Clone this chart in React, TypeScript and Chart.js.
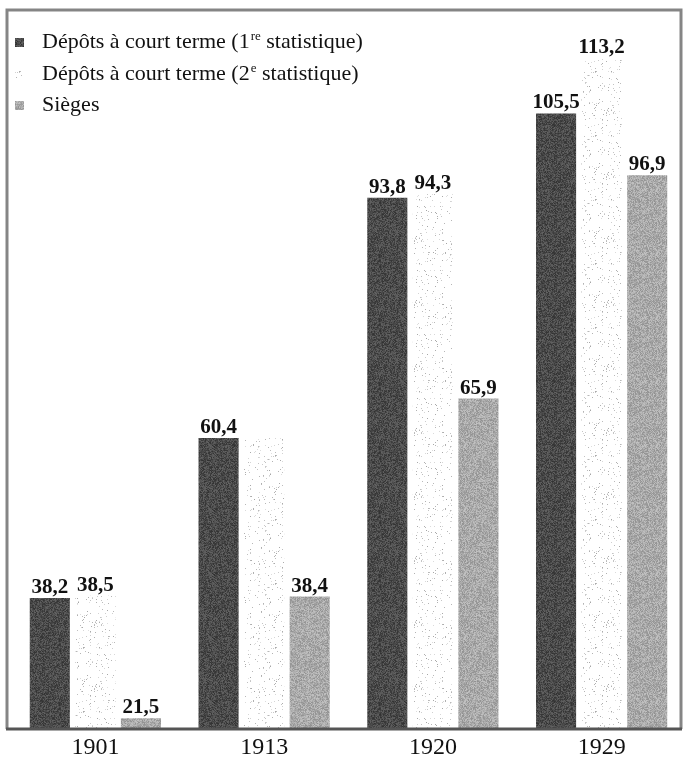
import React, { useEffect, useRef } from "react";
import { Chart, registerables } from "chart.js";
Chart.register(...registerables);

const categories = ["1901", "1913", "1920", "1929"];
const depots1 = [38.2, 60.4, 93.8, 105.5];
const depots2 = [38.5, 60.4, 94.3, 113.2];
const depots2Labeled = [true, false, true, true];
const sieges = [21.5, 38.4, 65.9, 96.9];
const legendMain = ["Dépôts à court terme (1", "Dépôts à court terme (2", "Sièges"];
const legendSup = ["re", "e", ""];
const legendTail = [" statistique)", " statistique)", ""];

function makePattern(kind: string): CanvasPattern | string {
  const c = document.createElement("canvas");
  c.width = 64;
  c.height = 64;
  const ctx = c.getContext("2d");
  if (!ctx) return "#888";
  let seed = kind === "dark" ? 12345 : kind === "dots" ? 777 : 4242;
  const rnd = () => {
    seed = (seed * 1103515245 + 12345) & 0x7fffffff;
    return seed / 0x7fffffff;
  };
  const img = ctx.createImageData(64, 64);
  for (let i = 0; i < 64 * 64; i++) {
    let v = 255;
    if (kind === "dark") v = 50 + Math.floor(rnd() * 50);
    else if (kind === "mid") v = 145 + Math.floor(rnd() * 50);
    else {
      const r = rnd();
      v = r < 0.045 ? 165 + Math.floor(rnd() * 60) : 255;
    }
    img.data[i * 4] = v;
    img.data[i * 4 + 1] = v;
    img.data[i * 4 + 2] = v;
    img.data[i * 4 + 3] = 255;
  }
  ctx.putImageData(img, 0, 0);
  return ctx.createPattern(c, "repeat") || "#888";
}

const fmt = (v: number) => v.toFixed(1).replace(".", ",");

export default function App() {
  const ref = useRef<HTMLCanvasElement>(null);
  useEffect(() => {
    document.body.style.margin = "0";
    const canvas = ref.current;
    if (!canvas) return;
    const pDark = makePattern("dark");
    const pDots = makePattern("dots");
    const pMid = makePattern("mid");
    const patterns = [pDark, pDots, pMid];

    const framePlugin = {
      id: "frame",
      beforeDatasetsDraw(chart: any) {
        const { ctx, chartArea } = chart;
        ctx.save();
        ctx.strokeStyle = "#858585";
        ctx.lineWidth = 3;
        ctx.beginPath();
        ctx.moveTo(chartArea.left - 4, chartArea.bottom);
        ctx.lineTo(chartArea.left - 4, chartArea.top + 1);
        ctx.lineTo(chartArea.right - 5, chartArea.top + 1);
        ctx.lineTo(chartArea.right - 5, chartArea.bottom);
        ctx.stroke();
        ctx.restore();
      },
      afterDatasetsDraw(chart: any) {
        const { ctx, chartArea } = chart;
        ctx.save();
        ctx.strokeStyle = "#555";
        ctx.lineWidth = 3;
        ctx.beginPath();
        ctx.moveTo(chartArea.left - 5, chartArea.bottom);
        ctx.lineTo(chartArea.right - 4, chartArea.bottom);
        ctx.stroke();
        // value labels
        ctx.fillStyle = "#111";
        ctx.font = "bold 21px 'Liberation Serif', serif";
        ctx.textAlign = "center";
        ctx.textBaseline = "alphabetic";
        chart.data.datasets.forEach((ds: any, di: number) => {
          const meta = chart.getDatasetMeta(di);
          meta.data.forEach((bar: any, i: number) => {
            if (di === 1 && !depots2Labeled[i]) return;
            ctx.fillText(fmt(ds.data[i]), bar.x, bar.y - 5);
          });
        });
        // legend
        const rows = [48, 80, 111];
        rows.forEach((y, i) => {
          ctx.fillStyle = patterns[i] as any;
          ctx.fillRect(chartArea.left + 4, y - 10, 9, 9);
          ctx.fillStyle = "#111";
          ctx.textAlign = "left";
          ctx.font = "22px 'Liberation Serif', serif";
          let x = chartArea.left + 31;
          ctx.fillText(legendMain[i], x, y);
          x += ctx.measureText(legendMain[i]).width;
          if (legendSup[i]) {
            ctx.font = "13px 'Liberation Serif', serif";
            ctx.fillText(legendSup[i], x + 1, y - 8);
            x += ctx.measureText(legendSup[i]).width + 1;
            ctx.font = "22px 'Liberation Serif', serif";
            ctx.fillText(legendTail[i], x, y);
          }
        });
        ctx.restore();
      },
    };

    const chart = new Chart(canvas, {
      type: "bar",
      data: {
        labels: categories,
        datasets: [
          { label: "Dépôts à court terme (1re statistique)", data: depots1, backgroundColor: pDark as any },
          { label: "Dépôts à court terme (2e statistique)", data: depots2, backgroundColor: pDots as any },
          { label: "Sièges", data: sieges, backgroundColor: pMid as any },
        ],
      },
      options: {
        responsive: false,
        animation: false,
        layout: { padding: { left: 11, right: 0, top: 9, bottom: 0 } },
        datasets: { bar: { categoryPercentage: 0.81, barPercentage: 0.88 } },
        plugins: { legend: { display: false }, tooltip: { enabled: false } },
        scales: {
          x: {
            grid: { display: false, drawTicks: false },
            border: { display: false },
            ticks: {
              color: "#111",
              font: { family: "'Liberation Serif', serif", size: 24, lineHeight: 1 },
              padding: 7,
            },
            afterFit(scale: any) {
              scale.height = 33;
            },
          },
          y: {
            display: false,
            min: 20,
            max: 120,
          },
        },
      },
      plugins: [framePlugin],
    });
    return () => chart.destroy();
  }, []);
  return (
    <div style={{ position: "absolute", left: 0, top: 0, width: 686, height: 762, background: "#fff" }}>
      <canvas ref={ref} width={686} height={762} style={{ width: 686, height: 762, display: "block" }} />
    </div>
  );
}
